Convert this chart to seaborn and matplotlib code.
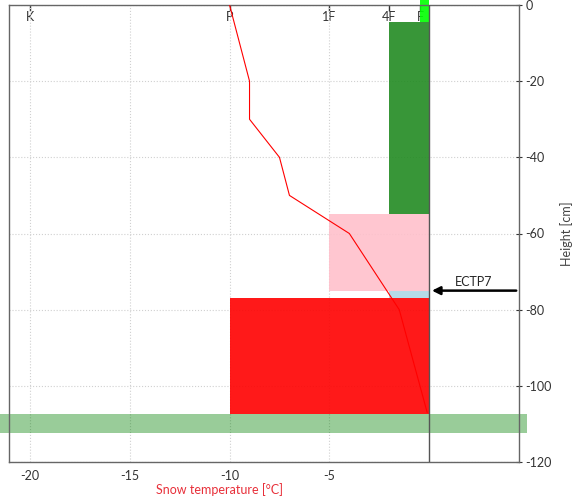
import numpy as np
import pandas as pd
import matplotlib
matplotlib.use("Agg")
import matplotlib.pyplot as plt
import seaborn as sns

sns.set_theme(style="white")
plt.rcParams['font.family'] = ['Lato', 'DejaVu Sans']
plt.rcParams['axes.unicode_minus'] = False

# snow layers (top, bottom in cm; hand hardness as x position)
layer_top = [1.3, -4.5, -55, -75, -77]
layer_bottom = [-4.5, -55, -75, -77, -107.5]
layer_hardness = [-0.45, -2, -5, -2, -10]
layer_colors = ['lime', 'forestgreen', 'pink', 'lightblue', 'red']

# temperature profile
temp_height = [0, -20, -30, -40, -50, -60, -80, -107]
temp_value = [-10, -9, -9, -7.5, -7, -4, -1.5, -0.1]

hardness_ticks = [-20, -10, -5, -2, -0.45]
hardness_labels = ['K', 'P', '1F', '4F', 'F']

test_height = -75
test_label = 'ECTP7'

ground_top, ground_bottom = -107.5, -112.5

fig = plt.figure(figsize=(5.77, 5.0), dpi=100)
ax = fig.add_axes([9/577, 1 - 462/500, 510/577, 457/500])

# hardness bars
for top, bot, hard, col in zip(layer_top, layer_bottom, layer_hardness, layer_colors):
    ax.barh(bot, -hard, left=hard, height=top - bot, align='edge',
            color=col, alpha=0.9, linewidth=0, zorder=2, clip_on=False)

# ground
ax.barh(ground_bottom, 27, left=-22.1, height=ground_top - ground_bottom, align='edge',
        color='green', alpha=0.4, linewidth=0, zorder=2, clip_on=False)

# temperature profile
temp = pd.DataFrame({'temp': temp_value, 'height': temp_height})
sns.lineplot(data=temp, x='temp', y='height', sort=False, estimator=None,
             color='red', lw=0.8, ax=ax, zorder=4)

ax.axvline(0, color='#555555', lw=1, zorder=3)

# stability test
ax.annotate('', xy=(0, test_height), xytext=(4.5, test_height),
            arrowprops=dict(arrowstyle='-|>', color='black', lw=1.8, mutation_scale=12),
            zorder=5)
ax.text(2.25, test_height + 0.8, test_label, ha='center', va='bottom', fontsize=9)

ax.set_xlim(-21.05, 4.5)
ax.set_ylim(-120, 0)
ax.set_xticks([-20, -15, -10, -5])
ax.set_yticks(np.arange(-120, 1, 20))
ax.grid(True, color='#d0d0d0', linestyle=':', lw=0.8, zorder=0)
ax.set_axisbelow(True)

ax.yaxis.tick_right()
ax.yaxis.set_label_position('right')
ax.set_ylabel('Height [cm]', fontsize=9, color='#444444')
ax.yaxis.set_label_coords(1.08, 0.5)
ax.set_xlabel('Snow temperature [°C]', fontsize=9, color='#e8303a')
ax.xaxis.set_label_coords((-10.5 + 21.05) / 25.55, -0.045)
ax.tick_params(axis='both', labelsize=9, colors='#333333', length=3, width=0.8)
ax.tick_params(axis='x', direction='in', pad=6)
ax.tick_params(axis='y', direction='inout', length=5, pad=2)

for s in ax.spines.values():
    s.set_color('#666666')
    s.set_linewidth(1)

# hand hardness labels on top, inside the axes
top = ax.secondary_xaxis('top')
top.set_xticks(hardness_ticks, hardness_labels)
top.tick_params(direction='in', pad=-13, labelsize=9, colors='#333333', length=4, width=1)
top.spines['top'].set_visible(False)

fig.savefig('out.png', dpi=100)
